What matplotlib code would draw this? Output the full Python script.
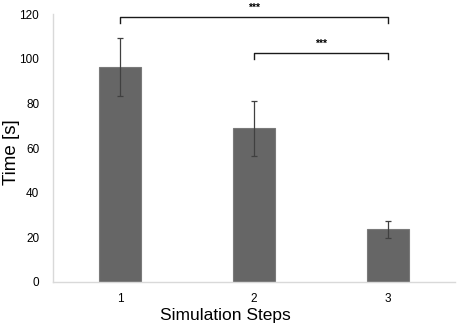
import matplotlib
matplotlib.use('Agg')
import matplotlib.pyplot as plt

plt.rcParams['font.family'] = ['Liberation Sans', 'DejaVu Sans']

steps = ['1', '2', '3']
means = [96.3, 68.8, 23.6]
errors = [13.2, 12.5, 3.8]

# significance brackets: (from, to, line height, tick bottom, label)
brackets = [(0, 2, 118.7, 116.0, '***'),
            (1, 2, 102.4, 99.7, '***')]

fig = plt.figure(figsize=(4.59, 3.29), dpi=100)
ax = fig.add_axes([0.1155, 0.143, 0.8755, 0.814])

x = list(range(len(steps)))
ax.bar(x, means, width=0.31, color='#666666', edgecolor='#7a7a7a', linewidth=0.8,
       yerr=errors, error_kw=dict(ecolor='#404040', elinewidth=0.9, capsize=2.5, capthick=0.9))

for i0, i1, h, low, lab in brackets:
    ax.plot([x[i0], x[i0], x[i1], x[i1]], [low, h, h, low], color='#1a1a1a', lw=1.0, clip_on=False)
    ax.text((x[i0] + x[i1]) / 2, h + 4.2, lab, ha='center', va='center', fontsize=7.5,
            fontweight='bold', clip_on=False)

ax.set_xlim(-0.5, 2.5)
ax.set_ylim(0, 120)
ax.set_yticks(range(0, 121, 20))
ax.set_xticks(x)
ax.set_xticklabels(steps)
ax.tick_params(length=0, labelsize=8.5, pad=8)
ax.tick_params(axis='y', pad=10)
for s in ['top', 'right']:
    ax.spines[s].set_visible(False)
for s in ['left', 'bottom']:
    ax.spines[s].set_color('#d9d9d9')
    ax.spines[s].set_linewidth(1.0)

# axis titles placed on the figure, as in the original layout
fig.text(0.49, 0.018, 'Simulation Steps', ha='center', va='bottom', fontsize=12.5)
fig.text(0.006, 0.538, 'Time [s]', rotation=90, ha='left', va='center', fontsize=13.5)

fig.savefig('out.png', dpi=100)
